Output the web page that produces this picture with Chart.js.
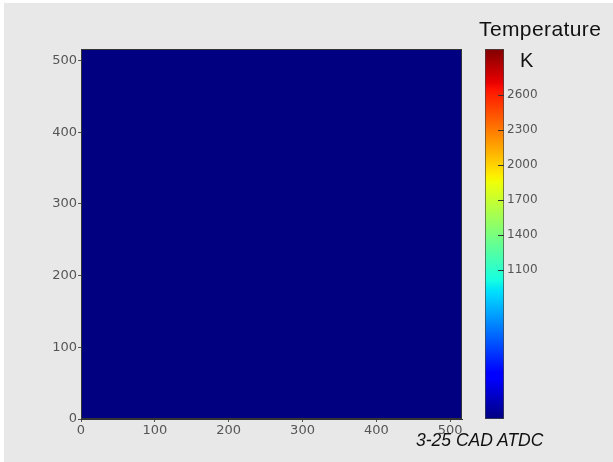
<!DOCTYPE html>
<html><head><meta charset="utf-8">
<script src="https://cdn.jsdelivr.net/npm/chart.js@4/dist/chart.umd.min.js"></script>
<style>
html,body{margin:0;padding:0;background:#fff;}
#wrap{position:relative;width:613px;height:462px;background:#fff;overflow:hidden;}
#bg{position:absolute;left:4px;top:3px;right:0;bottom:0;background:#e8e8e8;}
#main{position:absolute;left:0;top:0;}
#cb{position:absolute;left:460px;top:0;}
.txt{position:absolute;font-family:"Liberation Sans",Arial,sans-serif;color:#111;white-space:nowrap;line-height:1;}
</style></head>
<body>
<div id="wrap"><div id="bg"></div>
<canvas id="main" width="613" height="462"></canvas>
<canvas id="cb" width="153" height="462"></canvas>
<div class="txt" id="title" style="left:479px;top:18px;font-size:21px;letter-spacing:0.4px;">Temperature</div>
<div class="txt" id="unit" style="left:520px;top:50px;font-size:20px;">K</div>
<div class="txt" id="note" style="left:416px;top:432px;font-size:17.5px;font-style:italic;">3-25 CAD ATDC</div>
</div>
<script>
// ---- data ----
const xTicks = [0, 100, 200, 300, 400, 500];
const yTicks = [0, 100, 200, 300, 400, 500];
const gridExtent = 516;                 // cells span 0..516 on both axes
const fieldX = [0, 516];
const fieldY = [516, 516];
const fieldTemperature = -175;           // uniform field at the colour-scale minimum
const cbMin = -175, cbMax = 2990;
const cbTicks = [1100, 1400, 1700, 2000, 2300, 2600];

// jet colormap (matplotlib segment data)
const jetR = [[0,0],[0.35,0],[0.66,1],[0.89,1],[1,0.5]];
const jetG = [[0,0],[0.125,0],[0.375,1],[0.64,1],[0.91,0],[1,0]];
const jetB = [[0,0.5],[0.11,1],[0.34,1],[0.65,0],[1,0]];
function seg(s,t){for(let i=1;i<s.length;i++){if(t<=s[i][0]){const a=s[i-1],b=s[i];return a[1]+(b[1]-a[1])*(t-a[0])/(b[0]-a[0]);}}return s[s.length-1][1];}
function jet(t){t=Math.max(0,Math.min(1,t));return `rgb(${Math.round(255*seg(jetR,t))},${Math.round(255*seg(jetG,t))},${Math.round(255*seg(jetB,t))})`;}
const jetBreaks=[0,0.11,0.125,0.34,0.35,0.375,0.5,0.64,0.65,0.66,0.75,0.89,0.91,1];
const norm=v=>(v-cbMin)/(cbMax-cbMin);

const mainFont={family:'DejaVu Sans',size:13};
const cbFont={family:'DejaVu Sans',size:12};
const plain=v=>String(v);
const frame={id:'frame',afterDraw(c){const a=c.chartArea,x=c.ctx;x.save();x.strokeStyle='#333';x.lineWidth=1;x.strokeRect(a.left+0.5,a.top+0.5,a.right-a.left-1,a.bottom-a.top-1);x.restore();}};

new Chart(document.getElementById('main'),{
  type:'scatter',
  data:{datasets:[{
    data:fieldX.map((x,i)=>({x,y:fieldY[i]})),
    showLine:true, fill:'origin',
    backgroundColor:jet(norm(fieldTemperature)),
    borderWidth:0, pointRadius:0
  }]},
  options:{
    responsive:false, animation:false, devicePixelRatio:1,
    layout:{padding:{left:0,top:49,right:151,bottom:22}},
    plugins:{legend:{display:false},tooltip:{enabled:false}},
    scales:{
      x:{type:'linear',min:0,max:gridExtent,
        afterBuildTicks:s=>{s.ticks=xTicks.map(v=>({value:v}));},
        afterFit:s=>{s.height=21;},
        grid:{drawOnChartArea:false,tickLength:3,color:'#555'},
        border:{color:'#333'},
        ticks:{color:'#555',font:mainFont,padding:1,maxRotation:0,autoSkip:false,callback:plain}},
      y:{type:'linear',min:0,max:gridExtent,
        afterBuildTicks:s=>{s.ticks=yTicks.map(v=>({value:v}));},
        afterFit:s=>{s.width=81;},
        grid:{drawOnChartArea:false,tickLength:3,color:'#555'},
        border:{color:'#333'},
        ticks:{color:'#555',font:mainFont,padding:1,autoSkip:false,callback:plain}}
    }
  },
  plugins:[frame]
});

const innerTicks={id:'innerTicks',afterDatasetsDraw(c){const a=c.chartArea,s=c.scales.y,x=c.ctx;x.save();x.strokeStyle='#333';x.lineWidth=1;
  cbTicks.forEach(v=>{const y=Math.round(s.getPixelForValue(v))+0.5;x.beginPath();x.moveTo(a.right-6,y);x.lineTo(a.right,y);x.stroke();});x.restore();}};

new Chart(document.getElementById('cb'),{
  type:'bar',
  data:{labels:['K'],datasets:[{
    data:[[cbMin,cbMax]],
    backgroundColor:(ctx)=>{const ch=ctx.chart,a=ch.chartArea;if(!a)return '#000080';
      const s=ch.scales.y;const g=ch.ctx.createLinearGradient(0,s.getPixelForValue(cbMin),0,s.getPixelForValue(cbMax));
      jetBreaks.forEach(t=>g.addColorStop(t,jet(t)));return g;},
    borderColor:'#444',borderWidth:1,borderSkipped:false,
    barPercentage:1,categoryPercentage:1
  }]},
  options:{
    responsive:false,animation:false,devicePixelRatio:1,
    layout:{padding:{left:25,top:49,right:49,bottom:43}},
    plugins:{legend:{display:false},tooltip:{enabled:false}},
    scales:{
      x:{display:false},
      y:{position:'right',min:cbMin,max:cbMax,
        afterBuildTicks:s=>{s.ticks=cbTicks.map(v=>({value:v}));},
        afterFit:s=>{s.width=60;},
        grid:{drawOnChartArea:false,drawTicks:false},
        border:{display:false},
        ticks:{color:'#555',font:cbFont,padding:3,autoSkip:false,callback:plain}}
    }
  },
  plugins:[innerTicks]
});
</script>
</body></html>
